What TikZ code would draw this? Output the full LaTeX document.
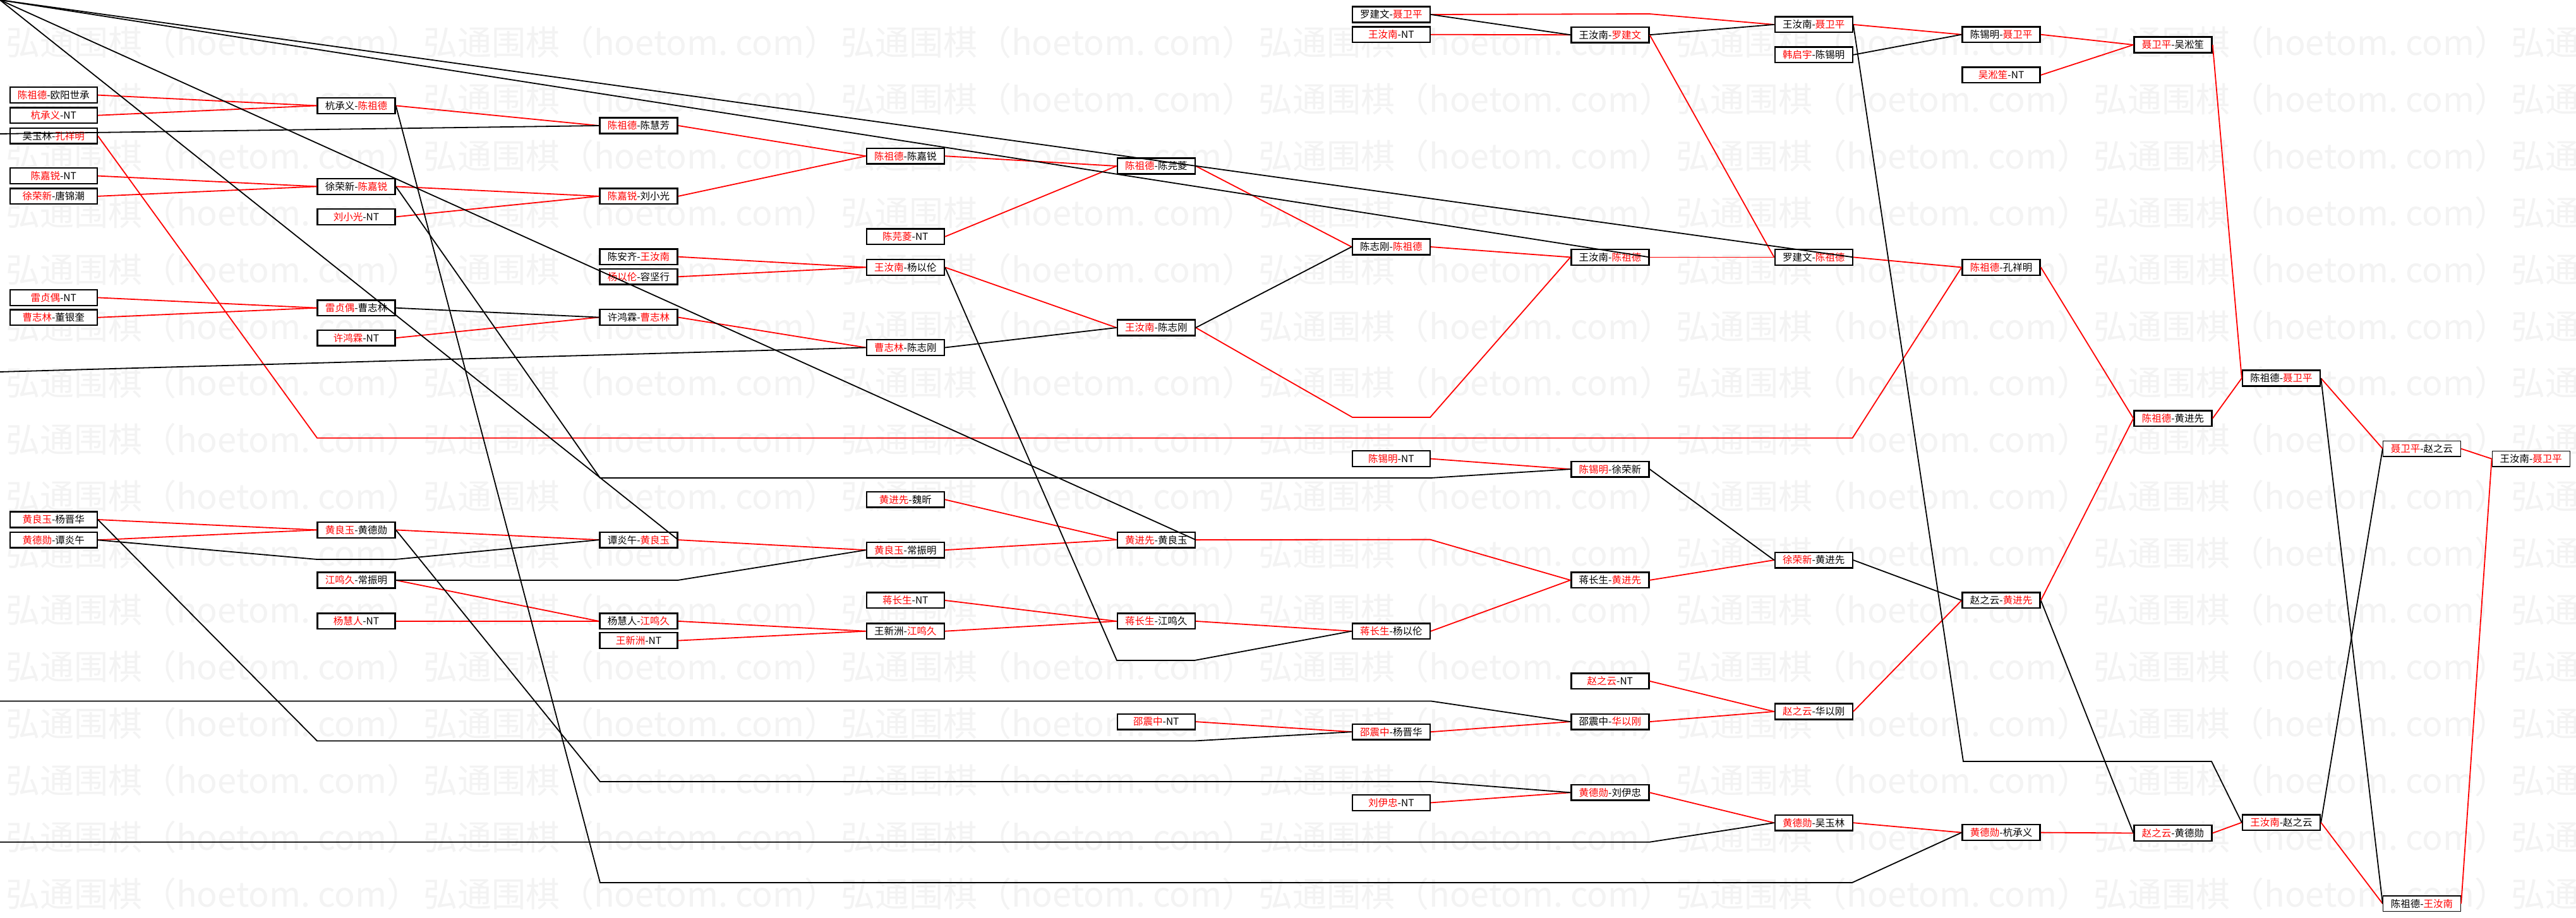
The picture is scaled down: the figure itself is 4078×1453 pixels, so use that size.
\documentclass[tikz,border=0pt]{standalone}
\usepackage{fontspec}
\newfontfamily\cjk{Noto Sans CJK SC}
\definecolor{winred}{RGB}{255,0,0}
\definecolor{wmark}{RGB}{243,243,243}
\newcommand\wn[1]{\textcolor{winred}{#1}}

\begin{document}
\begin{tikzpicture}[x=1pt,y=-1pt,
  match/.style={draw,line width=2.4pt,fill=white,minimum width=123pt,minimum height=24.7pt,inner sep=0pt,font=\cjk\fontsize{15.5}{15.5}\selectfont},
  wide/.style={match,minimum width=138pt},
  thinbox/.style={match,line width=1.3pt},
  win/.style={winred,line width=1.8pt},
  lose/.style={black,line width=1.8pt},
  wm/.style={anchor=west,inner sep=0pt,text=wmark,font=\cjk\fontsize{54}{54}\selectfont}]
  \def\xa{84.8};
  \def\xb{564};
  \def\xc{1011};
  \def\xd{1433.3};
  \def\xe{1830.3};
  \def\xf{2202.4};
  \def\xg{2548.8};
  \def\xh{2871.2};
  \def\xi{3168.1};
  \def\xj{3440};
  \def\xk{3611.5};
  \def\xl{3834};
  \def\xm{4006.7};
  \useasboundingbox (0,0) rectangle (4078,1453);
  \fill[white] (0,0) rectangle (4078,1453);
  \begin{scope}
    \clip (0,0) rectangle (4078,1453);
    \foreach \r in {0,...,15}{
      \foreach \c in {0,...,6}{
        \node[wm] (wm-\r-\c) at ({9+661*\c},{67+89.9*\r}) {弘通围棋（hoetom.\ com）};
      }
    }
  \end{scope}
  % first round
  \node[wide] (a1) at (\xa,150.6) {\wn{陈祖德}-欧阳世承};
  \node[wide] (a2) at (\xa,182.7) {\wn{杭承义}-NT};
  \node[wide] (a3) at (\xa,215.3) {吴玉林-\wn{孔祥明}};
  \node[wide] (a4) at (\xa,278.6) {\wn{陈嘉锐}-NT};
  \node[wide] (a5) at (\xa,310.8) {\wn{徐荣新}-唐锦潮};
  \node[wide] (a6) at (\xa,471.4) {\wn{雷贞偶}-NT};
  \node[wide] (a7) at (\xa,502.8) {\wn{曹志林}-董银奎};
  \node[wide] (a8) at (\xa,823) {\wn{黄良玉}-杨晋华};
  \node[wide] (a9) at (\xa,855.3) {\wn{黄德勋}-谭炎午};
  \node[match] (b1) at (\xb,167.4) {杭承义-\wn{陈祖德}};
  \node[match] (b2) at (\xb,295.4) {徐荣新-\wn{陈嘉锐}};
  \node[match] (b3) at (\xb,343.4) {\wn{刘小光}-NT};
  \node[match] (b4) at (\xb,487.7) {\wn{雷贞偶}-曹志林};
  \node[match] (b5) at (\xb,535.2) {\wn{许鸿霖}-NT};
  \node[match] (b6) at (\xb,839.4) {\wn{黄良玉}-黄德勋};
  \node[match] (b7) at (\xb,919) {\wn{江鸣久}-常振明};
  \node[match] (b8) at (\xb,983.9) {\wn{杨慧人}-NT};
  \node[match] (c1) at (\xc,199) {\wn{陈祖德}-陈慧芳};
  \node[match] (c2) at (\xc,310.8) {\wn{陈嘉锐}-刘小光};
  \node[match] (c3) at (\xc,406.7) {陈安齐-\wn{王汝南}};
  \node[match] (c4) at (\xc,438.3) {\wn{杨以伦}-容坚行};
  \node[match] (c5) at (\xc,502.6) {许鸿霖-\wn{曹志林}};
  \node[match] (c6) at (\xc,855.1) {谭炎午-\wn{黄良玉}};
  \node[match] (c7) at (\xc,983.9) {杨慧人-\wn{江鸣久}};
  \node[match] (c8) at (\xc,1014.6) {\wn{王新洲}-NT};
  \node[match] (d1) at (\xd,247.2) {\wn{陈祖德}-陈嘉锐};
  \node[match] (d2) at (\xd,374.8) {\wn{陈芫菱}-NT};
  \node[match] (d3) at (\xd,423.4) {\wn{王汝南}-杨以伦};
  \node[match] (d4) at (\xd,550.5) {\wn{曹志林}-陈志刚};
  \node[match] (d5) at (\xd,791.3) {\wn{黄进先}-魏昕};
  \node[match] (d6) at (\xd,871.2) {\wn{黄良玉}-常振明};
  \node[match] (d7) at (\xd,950.9) {\wn{蒋长生}-NT};
  \node[match] (d8) at (\xd,999.7) {王新洲-\wn{江鸣久}};
  \node[match] (e1) at (\xe,263) {\wn{陈祖德}-陈芫菱};
  \node[match] (e2) at (\xe,519) {\wn{王汝南}-陈志刚};
  \node[match] (e3) at (\xe,855.1) {\wn{黄进先}-黄良玉};
  \node[match] (e4) at (\xe,983.9) {\wn{蒋长生}-江鸣久};
  \node[match] (e5) at (\xe,1143.1) {\wn{邵震中}-NT};
  \node[match] (f1) at (\xf,23) {罗建文-\wn{聂卫平}};
  \node[match] (f2) at (\xf,54.7) {\wn{王汝南}-NT};
  \node[match] (f3) at (\xf,391) {陈志刚-\wn{陈祖德}};
  \node[match] (f4) at (\xf,726.6) {\wn{陈锡明}-NT};
  \node[match] (f5) at (\xf,999.7) {\wn{蒋长生}-杨以伦};
  \node[match] (f6) at (\xf,1159.2) {\wn{邵震中}-杨晋华};
  \node[match] (f7) at (\xf,1271.4) {\wn{刘伊忠}-NT};
  \node[match] (g1) at (\xg,55.2) {王汝南-\wn{罗建文}};
  \node[match] (g2) at (\xg,407.4) {王汝南-\wn{陈祖德}};
  \node[match] (g3) at (\xg,743.1) {\wn{陈锡明}-徐荣新};
  \node[match] (g4) at (\xg,918.9) {蒋长生-\wn{黄进先}};
  \node[match] (g5) at (\xg,1078.8) {\wn{赵之云}-NT};
  \node[match] (g6) at (\xg,1143.1) {邵震中-\wn{华以刚}};
  \node[match] (g7) at (\xg,1255.3) {\wn{黄德勋}-刘伊忠};
  \node[match] (h1) at (\xh,38.9) {王汝南-\wn{聂卫平}};
  \node[match] (h2) at (\xh,86.8) {\wn{韩启宇}-陈锡明};
  \node[match] (h3) at (\xh,407.4) {罗建文-\wn{陈祖德}};
  \node[match] (h4) at (\xh,887.1) {\wn{徐荣新}-黄进先};
  \node[match] (h5) at (\xh,1127) {\wn{赵之云}-华以刚};
  \node[match] (h6) at (\xh,1303.2) {\wn{黄德勋}-吴玉林};
  \node[match] (i1) at (\xi,54.7) {陈锡明-\wn{聂卫平}};
  \node[match] (i2) at (\xi,118.9) {\wn{吴淞笙}-NT};
  \node[match] (i3) at (\xi,423.4) {\wn{陈祖德}-孔祥明};
  \node[match] (i4) at (\xi,950.9) {赵之云-\wn{黄进先}};
  \node[match] (i5) at (\xi,1318.6) {\wn{黄德勋}-杭承义};
  \node[match] (j1) at (\xj,71) {\wn{聂卫平}-吴淞笙};
  \node[match] (j2) at (\xj,662.7) {\wn{陈祖德}-黄进先};
  \node[match] (j3) at (\xj,1319.5) {\wn{赵之云}-黄德勋};
  \node[match] (k1) at (\xk,599) {陈祖德-\wn{聂卫平}};
  \node[match] (k2) at (\xk,1302.7) {\wn{王汝南}-赵之云};
  \node[thinbox] (l1) at (\xl,710.7) {\wn{聂卫平}-赵之云};
  \node[thinbox] (l2) at (\xl,1431.3) {陈祖德-\wn{王汝南}};
  \node[thinbox] (m1) at (\xm,726.7) {王汝南-\wn{聂卫平}};
  \coordinate (corner) at (0,0);
  \coordinate (edge1) at (0,212);
  \coordinate (edge2) at (0,589);
  \coordinate (edge3) at (0,1110.4);
  \coordinate (edge4) at (0,1333.8);
  % winners
  \draw[win] (a1.east) -- (b1.west);
  \draw[win] (a2.east) -- (b1.west);
  \draw[win] (a3.east) -- (502,693.7) -- (2932.6,693.7) -- (i3.west);
  \draw[win] (a4.east) -- (b2.west);
  \draw[win] (a5.east) -- (b2.west);
  \draw[win] (a6.east) -- (b4.west);
  \draw[win] (a7.east) -- (b4.west);
  \draw[win] (a8.east) -- (b6.west);
  \draw[win] (a9.east) -- (b6.west);
  \draw[win] (b1.east) -- (c1.west);
  \draw[win] (b2.east) -- (c2.west);
  \draw[win] (b3.east) -- (c2.west);
  \draw[win] (b5.east) -- (c5.west);
  \draw[win] (b6.east) -- (c6.west);
  \draw[win] (b7.east) -- (c7.west);
  \draw[win] (b8.east) -- (c7.west);
  \draw[win] (c1.east) -- (d1.west);
  \draw[win] (c2.east) -- (d1.west);
  \draw[win] (c3.east) -- (d3.west);
  \draw[win] (c4.east) -- (d3.west);
  \draw[win] (c5.east) -- (d4.west);
  \draw[win] (c6.east) -- (d6.west);
  \draw[win] (c7.east) -- (d8.west);
  \draw[win] (c8.east) -- (d8.west);
  \draw[win] (d1.east) -- (e1.west);
  \draw[win] (d2.east) -- (e1.west);
  \draw[win] (d3.east) -- (e2.west);
  \draw[win] (d5.east) -- (e3.west);
  \draw[win] (d6.east) -- (e3.west);
  \draw[win] (d7.east) -- (e4.west);
  \draw[win] (d8.east) -- (e4.west);
  \draw[win] (e1.east) -- (f3.west);
  \draw[win] (e2.east) -- (2141,661) -- (2264,661) -- (g2.west);
  \draw[win] (e3.east) -- (2264,854.6) -- (g4.west);
  \draw[win] (e4.east) -- (f5.west);
  \draw[win] (e5.east) -- (f6.west);
  \draw[win] (f1.east) -- (2611,22) -- (h1.west);
  \draw[win] (f2.east) -- (g1.west);
  \draw[win] (f3.east) -- (g2.west);
  \draw[win] (f4.east) -- (g3.west);
  \draw[win] (f5.east) -- (g4.west);
  \draw[win] (f6.east) -- (g6.west);
  \draw[win] (f7.east) -- (g7.west);
  \draw[win] (g1.east) -- (h3.west);
  \draw[win] (g2.east) -- (h3.west);
  \draw[win] (g4.east) -- (h4.west);
  \draw[win] (g5.east) -- (h5.west);
  \draw[win] (g6.east) -- (h5.west);
  \draw[win] (g7.east) -- (h6.west);
  \draw[win] (h1.east) -- (i1.west);
  \draw[win] (h3.east) -- (i3.west);
  \draw[win] (h5.east) -- (i4.west);
  \draw[win] (h6.east) -- (i5.west);
  \draw[win] (i1.east) -- (j1.west);
  \draw[win] (i2.east) -- (j1.west);
  \draw[win] (i3.east) -- (j2.west);
  \draw[win] (i4.east) -- (j2.west);
  \draw[win] (i5.east) -- (j3.west);
  \draw[win] (j1.east) -- (k1.west);
  \draw[win] (j2.east) -- (k1.west);
  \draw[win] (j3.east) -- (k2.west);
  \draw[win] (k1.east) -- (l1.west);
  \draw[win] (k2.east) -- (l2.west);
  \draw[win] (l1.east) -- (m1.west);
  \draw[win] (l2.east) -- (m1.west);
  % losers
  \draw[lose] (corner) -- (h3.east);
  \draw[lose] (corner) -- (g2.east);
  \draw[lose] (corner) -- (e3.east);
  \draw[lose] (corner) -- (c6.east);
  \draw[lose] (edge1) -- (c1.west);
  \draw[lose] (edge2) -- (d4.west);
  \draw[lose] (edge3) -- (2265,1110.4) -- (g6.west);
  \draw[lose] (edge4) -- (2611,1333.8) -- (h6.west);
  \draw[lose] (b1.east) -- (950,1398) -- (2932,1398) -- (i5.west);
  \draw[lose] (b2.east) -- (950,757) -- (2265,757) -- (g3.west);
  \draw[lose] (b4.east) -- (c5.west);
  \draw[lose] (a9.east) -- (502,886) -- (626,886) -- (c6.west);
  \draw[lose] (a8.east) -- (502,1173.5) -- (1891,1173.5) -- (f6.west);
  \draw[lose] (b6.east) -- (950,1238) -- (2265,1238) -- (g7.west);
  \draw[lose] (b7.east) -- (1073,919) -- (d6.west);
  \draw[lose] (d3.east) -- (1768,1046) -- (1891,1046) -- (f5.west);
  \draw[lose] (d4.east) -- (e2.west);
  \draw[lose] (e2.east) -- (f3.west);
  \draw[lose] (f1.east) -- (g1.west);
  \draw[lose] (g1.east) -- (h1.west);
  \draw[lose] (h2.east) -- (i1.west);
  \draw[lose] (g3.east) -- (h4.west);
  \draw[lose] (h4.east) -- (i4.west);
  \draw[lose] (i4.east) -- (j3.west);
  \draw[lose] (h1.east) -- (3108,1206) -- (3501,1206) -- (k2.west);
  \draw[lose] (k1.east) -- (l2.west);
  \draw[lose] (k2.east) -- (l1.west);
\end{tikzpicture}
\end{document}
